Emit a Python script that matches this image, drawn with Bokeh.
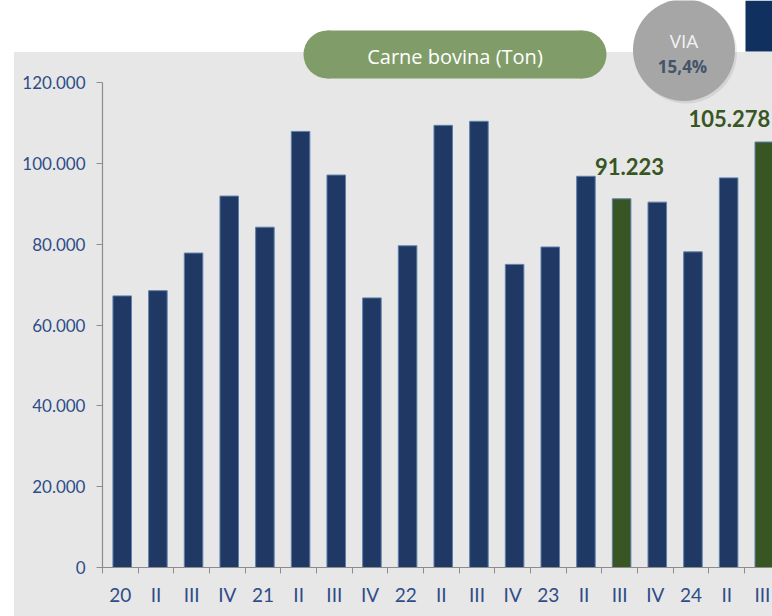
from bokeh.plotting import figure
from bokeh.models import Range1d, FixedTicker, LinearAxis, ColumnDataSource
from bokeh.core.properties import value
from bokeh.embed import file_html
from bokeh.resources import INLINE

# ---------------- data ----------------
CATEGORIES = ["20", "II", "III", "IV", "21", "II", "III", "IV", "22", "II", "III", "IV",
              "23", "II", "III", "IV", "24", "II", "III"]
VOLUMES = [67200, 68500, 77800, 91900, 84200, 107900, 97100, 66700, 79600, 109400, 110400,
           75000, 79300, 96800, 91223, 90400, 78100, 96400, 105278]
HIGHLIGHT = [14, 18]
Y_TICKS = [0, 20000, 40000, 60000, 80000, 100000, 120000]
Y_TICK_LABELS = ["0", "20.000", "40.000", "60.000", "80.000", "100.000", "120.000"]
TITLE = "Carne bovina (Ton)"
VIA_LABEL = "VIA"
VIA_VALUE = "15,4%"

# ---------------- layout / style ----------------
W, H = 772, 616
FRAME_LEFT = 102         # px
FRAME_BOTTOM = 567       # px
PX_PER_CAT = 35.67
PX_PER_UNIT = 485.0 / 120000.0
BAR_SHIFT = 0.053
BAR_WIDTH = 0.52

NAVY = "#1f3864"
GREEN = "#375623"
AXIS_GRAY = "#8c8c8c"
LABEL_BLUE = "#2e4d87"
PANEL_GRAY = "#e7e7e7"

x_start = -0.5
x_end = -0.5 + (W - FRAME_LEFT) / PX_PER_CAT
y_end = FRAME_BOTTOM / PX_PER_UNIT


def dx(px):
    return -0.5 + (px - FRAME_LEFT) / PX_PER_CAT


def dy(py):
    return (FRAME_BOTTOM - py) / PX_PER_UNIT


p = figure(width=W, height=H, x_range=Range1d(x_start, x_end), y_range=Range1d(0, y_end),
           output_backend="svg", toolbar_location=None,
           min_border_left=FRAME_LEFT, min_border_right=0, min_border_top=0,
           min_border_bottom=H - FRAME_BOTTOM,
           border_fill_color=None, background_fill_color=None, outline_line_color=None,
           x_axis_type=None)
p.styles = {"background": f"linear-gradient({PANEL_GRAY}, {PANEL_GRAY}) 14px 52px / 758px 564px no-repeat, #ffffff"}
p.grid.visible = False

# bars
n = len(CATEGORIES)
colors = [GREEN if i in HIGHLIGHT else NAVY for i in range(n)]
src = ColumnDataSource(dict(x=[i + BAR_SHIFT for i in range(n)], top=VOLUMES, color=colors))
p.vbar(x="x", top="top", bottom=0, width=BAR_WIDTH, source=src,
       fill_color="color", line_color="#5f80aa", line_width=1)

# value labels on highlighted bars
lab_style = {14: ("center", 8, -32), 18: ("right", 6, -24)}
for i in HIGHLIGHT:
    txt = f"{VOLUMES[i]:,}".replace(",", ".")
    align, xo, yo = lab_style[i]
    p.text(x=[i + BAR_SHIFT], y=[VOLUMES[i]], text=[txt], x_offset=xo, y_offset=yo,
           text_align=align, text_baseline="alphabetic", text_font=value("Lato"),
           text_font_size="22px", text_font_style="bold", text_color=GREEN)

# x axis: labels at category centres, ticks at boundaries
xaxis = LinearAxis(ticker=FixedTicker(ticks=list(range(n)),
                                      minor_ticks=[i - 0.5 for i in range(n + 1)]),
                   major_label_overrides={i: lab for i, lab in enumerate(CATEGORIES)})
xaxis.major_tick_in = 0
xaxis.major_tick_out = 0
xaxis.major_tick_line_color = None
xaxis.minor_tick_in = 0
xaxis.minor_tick_out = 6
xaxis.minor_tick_line_color = AXIS_GRAY
xaxis.axis_line_color = AXIS_GRAY
xaxis.axis_line_width = 1.2
xaxis.major_label_standoff = 9
xaxis.major_label_text_font = "Lato"
xaxis.major_label_text_font_size = "19px"
xaxis.major_label_text_color = LABEL_BLUE
p.add_layout(xaxis, "below")

# y axis
yax = p.yaxis[0]
yax.ticker = FixedTicker(ticks=Y_TICKS)
yax.major_label_overrides = dict(zip(Y_TICKS, Y_TICK_LABELS))
yax.bounds = (0, Y_TICKS[-1])
yax.major_tick_in = 0
yax.major_tick_out = 6
yax.minor_tick_line_color = None
yax.major_tick_line_color = AXIS_GRAY
yax.axis_line_color = AXIS_GRAY
yax.axis_line_width = 1.2
yax.major_label_standoff = 11
yax.major_label_text_font = "Lato"
yax.major_label_text_font_size = "17px"
yax.major_label_text_color = LABEL_BLUE

# title pill
PILL_L, PILL_R, PILL_T, PILL_B = 303, 606, 30, 78
r_pill = (PILL_B - PILL_T) / 2
p.quad(left=[dx(PILL_L + r_pill)], right=[dx(PILL_R - r_pill)], top=[dy(PILL_T)], bottom=[dy(PILL_B)],
       fill_color="#809d69", line_color=None)
p.circle(x=[dx(PILL_L + r_pill), dx(PILL_R - r_pill)], y=[dy((PILL_T + PILL_B) / 2)] * 2,
         radius=r_pill, radius_units="screen", fill_color="#809d69", line_color=None)
p.text(x=[dx((PILL_L + PILL_R) / 2)], y=[dy(55.5)], text=[TITLE], text_align="center",
       text_baseline="middle", text_font=value("Open Sans"), text_font_size="20px",
       text_color="#ffffff")

# VIA circle
p.circle(x=[dx(685.5)], y=[dy(52)], radius=51, radius_units="screen",
         fill_color="#000000", fill_alpha=0.08, line_color=None)
p.circle(x=[dx(683.5)], y=[dy(49.5)], radius=51, radius_units="screen",
         fill_color="#a6a6a6", line_color=None)
p.text(x=[dx(683.5)], y=[dy(40)], text=[VIA_LABEL], text_align="center", text_baseline="middle",
       text_font=value("Open Sans"), text_font_size="19px", text_color="#f2f2f2")
p.text(x=[dx(682)], y=[dy(66)], text=[VIA_VALUE], text_align="center", text_baseline="middle",
       text_font=value("Open Sans"), text_font_size="17px", text_font_style="bold",
       text_color="#44546a")

# logo block (top right)
p.quad(left=[dx(745)], right=[dx(800)], top=[dy(0)], bottom=[dy(51)],
       fill_color="#10305f", line_color=None)

open("out.html", "w").write(file_html(p, INLINE))
